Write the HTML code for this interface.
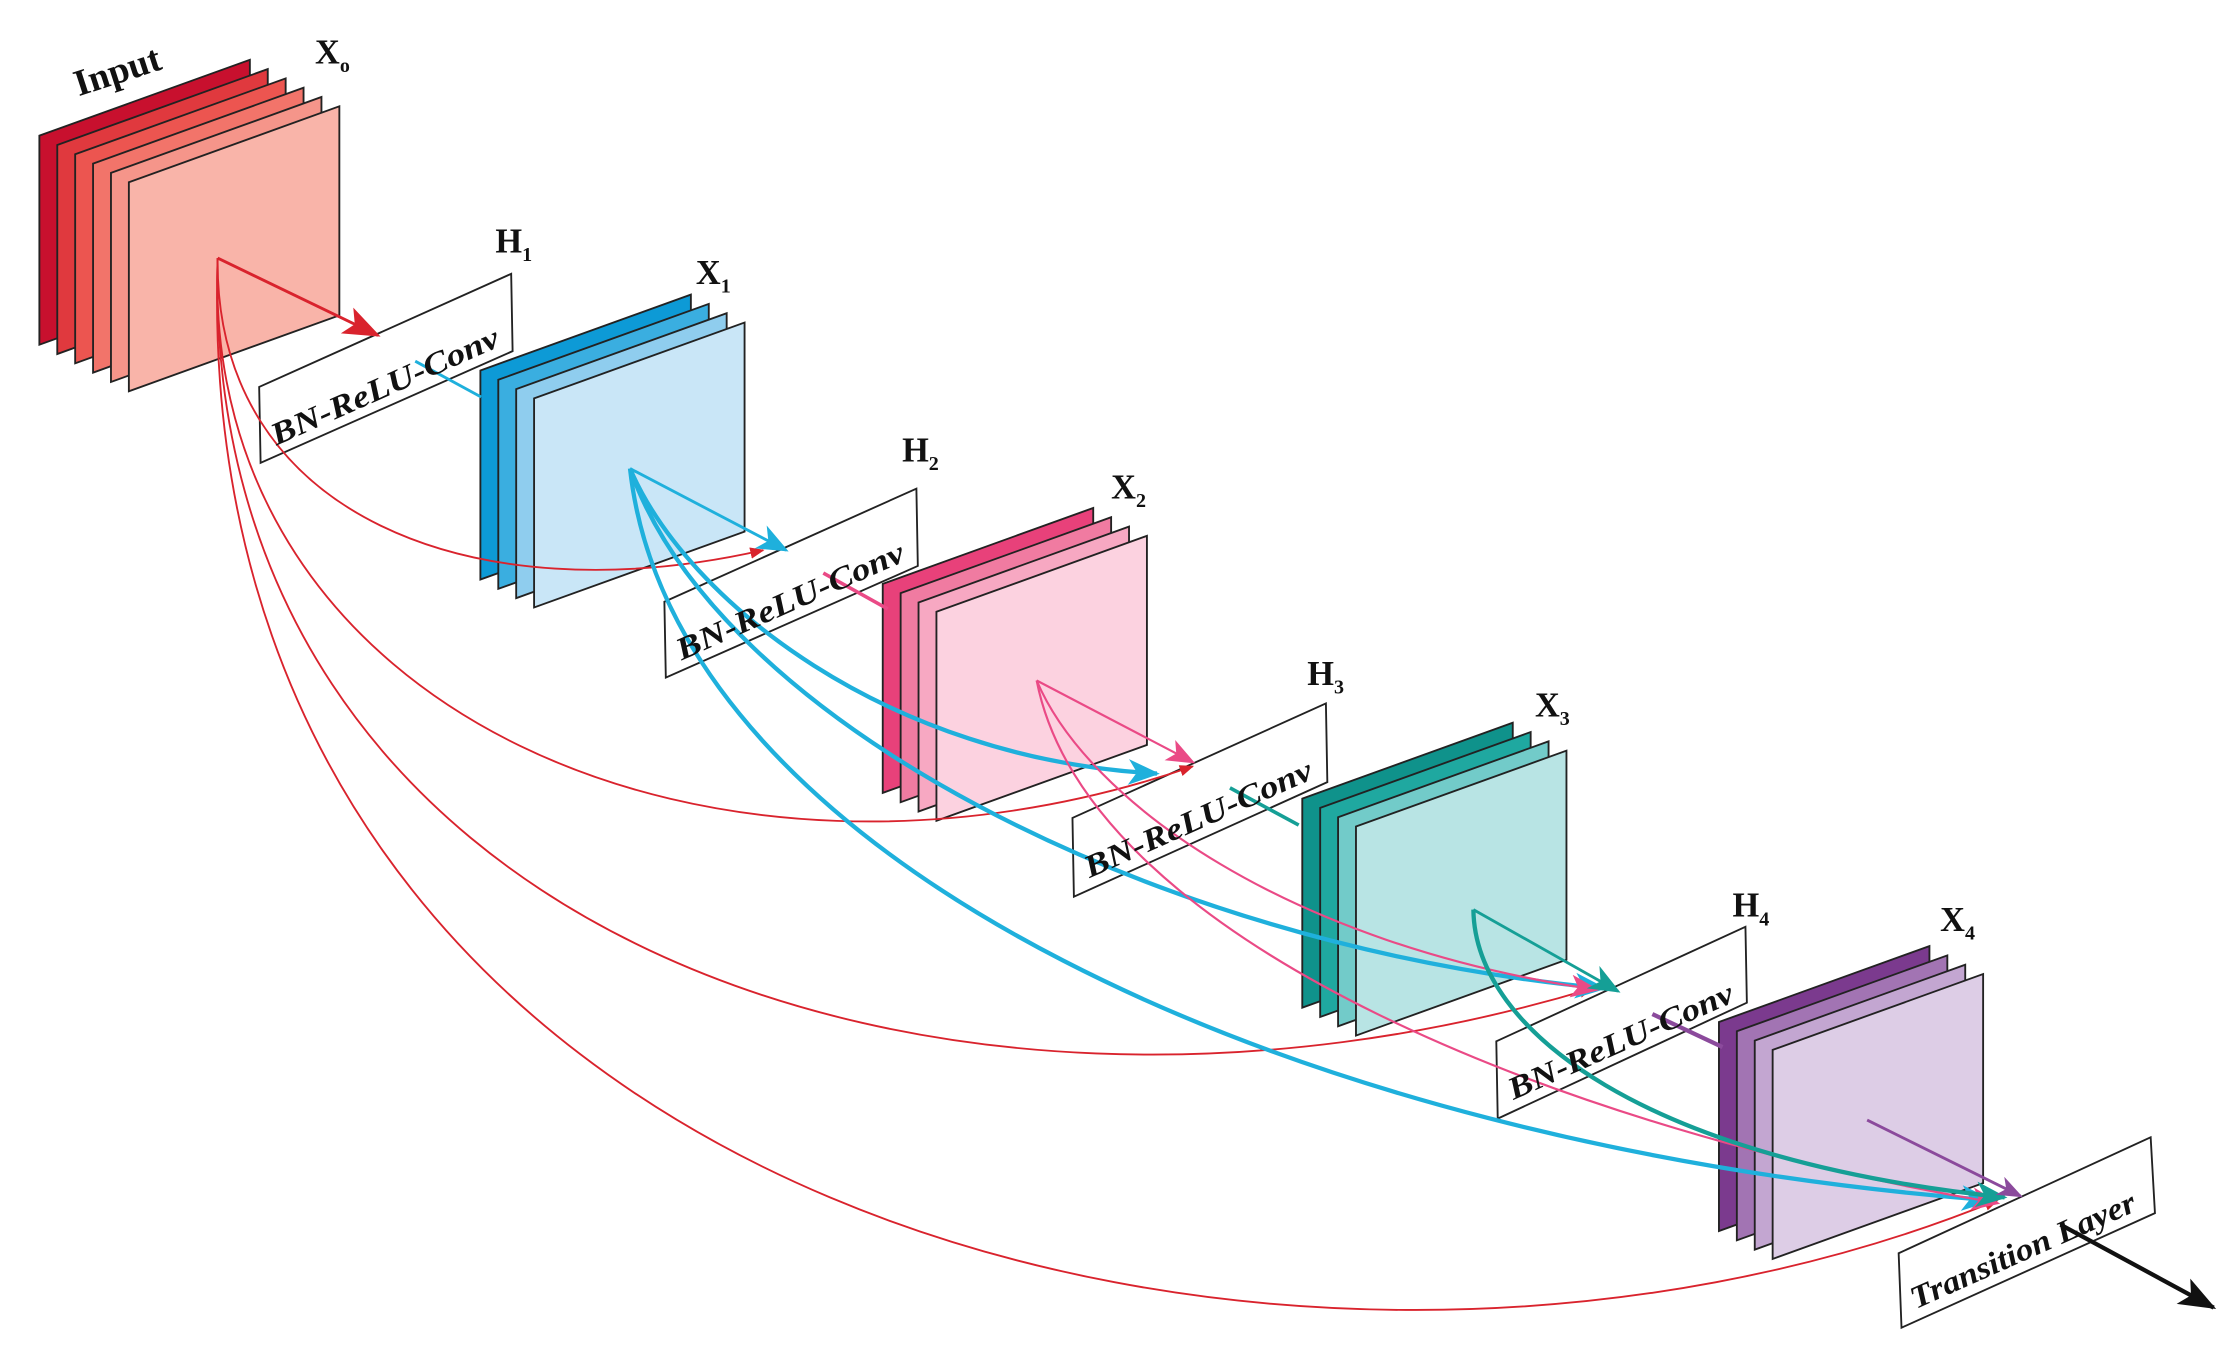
<!DOCTYPE html>
<html><head><meta charset="utf-8"><style>
html,body{margin:0;padding:0;background:#fff;}
svg{display:block;}
text{font-family:"Liberation Serif",serif;font-weight:bold;}
</style></head><body>
<svg width="2238" height="1371" viewBox="0 0 1563 957" xmlns="http://www.w3.org/2000/svg">
<defs>
<polygon id="sh" points="0,0 147,-53 147,93 0,146" stroke="#222" stroke-width="1.3"/>
<marker id="ar" markerWidth="10" markerHeight="8" refX="9" refY="4" orient="auto" markerUnits="userSpaceOnUse"><path d="M0,0 L10,4 L0,8 Z" fill="#d9232d"/></marker>
<marker id="ab" markerWidth="22" markerHeight="18" refX="20" refY="9" orient="auto" markerUnits="userSpaceOnUse"><path d="M0,0 L22,9 L0,18 L6,9 Z" fill="#1fb0dc"/></marker>
<marker id="ap" markerWidth="20" markerHeight="16" refX="18" refY="8" orient="auto" markerUnits="userSpaceOnUse"><path d="M0,0 L20,8 L0,16 L5,8 Z" fill="#ea4a86"/></marker>
<marker id="at" markerWidth="22" markerHeight="18" refX="20" refY="9" orient="auto" markerUnits="userSpaceOnUse"><path d="M0,0 L22,9 L0,18 L6,9 Z" fill="#159f96"/></marker>
<marker id="au" markerWidth="18" markerHeight="14" refX="16" refY="7" orient="auto" markerUnits="userSpaceOnUse"><path d="M0,0 L18,7 L0,14 L5,7 Z" fill="#8b4a9c"/></marker>
<marker id="ak" markerWidth="26" markerHeight="20" refX="24" refY="10" orient="auto" markerUnits="userSpaceOnUse"><path d="M0,0 L26,10 L0,20 L6,10 Z" fill="#111"/></marker>
<marker id="ar2" markerWidth="26" markerHeight="20" refX="24" refY="10" orient="auto" markerUnits="userSpaceOnUse"><path d="M0,0 L26,10 L0,20 L6,10 Z" fill="#d9232d"/></marker>
</defs>
<use href="#sh" x="27.5" y="94.5" fill="#c8102e"/>
<use href="#sh" x="40" y="101" fill="#e0393e"/>
<use href="#sh" x="52.5" y="107.5" fill="#ec5550"/>
<use href="#sh" x="65" y="114" fill="#f2746a"/>
<use href="#sh" x="77.5" y="120.5" fill="#f5958a"/>
<use href="#sh" x="90" y="127" fill="#f9b4a9"/>
<use href="#sh" x="335.5" y="258.5" fill="#0d9ad6"/>
<use href="#sh" x="348" y="265" fill="#3aaee0"/>
<use href="#sh" x="360.5" y="271.5" fill="#8fcdee"/>
<use href="#sh" x="373" y="278" fill="#c9e6f7"/>
<use href="#sh" x="616.5" y="407.5" fill="#e8417a"/>
<use href="#sh" x="629" y="414" fill="#f07ba1"/>
<use href="#sh" x="641.5" y="420.5" fill="#f7a8c2"/>
<use href="#sh" x="654" y="427" fill="#fcd2e0"/>
<use href="#sh" x="909.5" y="557.5" fill="#0f928b"/>
<use href="#sh" x="922" y="564" fill="#1fa8a0"/>
<use href="#sh" x="934.5" y="570.5" fill="#72cbc9"/>
<use href="#sh" x="947" y="577" fill="#b8e4e4"/>
<use href="#sh" x="1200.5" y="713.5" fill="#7b3a8e"/>
<use href="#sh" x="1213" y="720" fill="#a274b3"/>
<use href="#sh" x="1225.5" y="726.5" fill="#c3a6d1"/>
<use href="#sh" x="1238" y="733" fill="#ddcde6"/>
<g stroke="#222" stroke-width="1.3" fill="#fff">
<polygon points="181,270 357,191 358,245 182,323"/>
<polygon points="464,420 640,341 641,395 465,473"/>
<polygon points="749,571 926,491 927,546 750,626"/>
<polygon points="1045,727 1219,647 1220,700 1046,781"/>
<polygon points="1326,875 1502,794 1505,847 1328,927"/>
</g>
<g fill="none" stroke="#d9232d" stroke-width="1.3">
<path d="M152,180 L264,234" marker-end="url(#ar2)" stroke-width="2"/>
<path d="M152,180 C150,360 330,430 533,384" marker-end="url(#ar)"/>
<path d="M152,180 C140,500 500,650 833,535" marker-end="url(#ar)"/>
<path d="M152,180 C140,650 650,830 1112,690" marker-end="url(#ar)"/>
<path d="M152,180 C130,850 900,1040 1395,838" marker-end="url(#ar)"/>
</g>
<g fill="none" stroke="#1fb0dc" stroke-width="3">
<path d="M290,252 L336,277" stroke-width="2"/>
<path d="M440,327 L549,384" stroke-width="2" marker-end="url(#ab)"/>
<path d="M440,327 C480,420 620,530 808,540" marker-end="url(#ab)"/>
<path d="M440,327 C500,500 800,660 1120,690" marker-end="url(#ab)"/>
<path d="M440,327 C470,600 900,800 1390,838" marker-end="url(#ab)"/>
</g>
<g fill="none" stroke="#ea4a86" stroke-width="1.5">
<path d="M575,400 L620,425" stroke-width="2.5"/>
<path d="M724,475 L833,532" marker-end="url(#ap)"/>
<path d="M724,475 C760,560 900,660 1115,691" marker-end="url(#ap)"/>
<path d="M724,475 C760,660 1100,790 1395,840" marker-end="url(#ap)"/>
</g>
<g fill="none" stroke="#159f96" stroke-width="3">
<path d="M859,550 L907,576" stroke-width="2.5"/>
<path d="M1029,635 L1130,692" stroke-width="2" marker-end="url(#at)"/>
<path d="M1029,635 C1030,720 1150,810 1400,836" marker-end="url(#at)"/>
</g>
<g fill="none" stroke="#8b4a9c" stroke-width="2">
<path d="M1154,708 L1203,731" stroke-width="3"/>
<path d="M1304,782 L1411,835" marker-end="url(#au)"/>
</g>
<path d="M1439,855 L1546,913" stroke="#111" stroke-width="3" marker-end="url(#ak)"/>
<g font-size="22" fill="#111" font-style="italic">
<text transform="translate(193,311) rotate(-24)" textLength="172" lengthAdjust="spacingAndGlyphs">BN-ReLU-Conv</text>
<text transform="translate(476,461) rotate(-24)" textLength="172" lengthAdjust="spacingAndGlyphs">BN-ReLU-Conv</text>
<text transform="translate(761,613) rotate(-24)" textLength="172" lengthAdjust="spacingAndGlyphs">BN-ReLU-Conv</text>
<text transform="translate(1057,768) rotate(-24)" textLength="170" lengthAdjust="spacingAndGlyphs">BN-ReLU-Conv</text>
<text transform="translate(1338,914) rotate(-24)" textLength="170" lengthAdjust="spacingAndGlyphs">Transition Layer</text>
</g>
<g font-size="24" fill="#111">
<text transform="translate(55,67) rotate(-18)" font-size="26">Input</text>
<text x="220" y="44">X<tspan font-size="14" dy="6">o</tspan></text>
<text x="346" y="176">H<tspan font-size="14" dy="6">1</tspan></text>
<text x="486" y="198">X<tspan font-size="14" dy="6">1</tspan></text>
<text x="630" y="322">H<tspan font-size="14" dy="6">2</tspan></text>
<text x="776" y="348">X<tspan font-size="14" dy="6">2</tspan></text>
<text x="913" y="478">H<tspan font-size="14" dy="6">3</tspan></text>
<text x="1072" y="500">X<tspan font-size="14" dy="6">3</tspan></text>
<text x="1210" y="640">H<tspan font-size="14" dy="6">4</tspan></text>
<text x="1355" y="650">X<tspan font-size="14" dy="6">4</tspan></text>
</g>
</svg>
</body></html>
